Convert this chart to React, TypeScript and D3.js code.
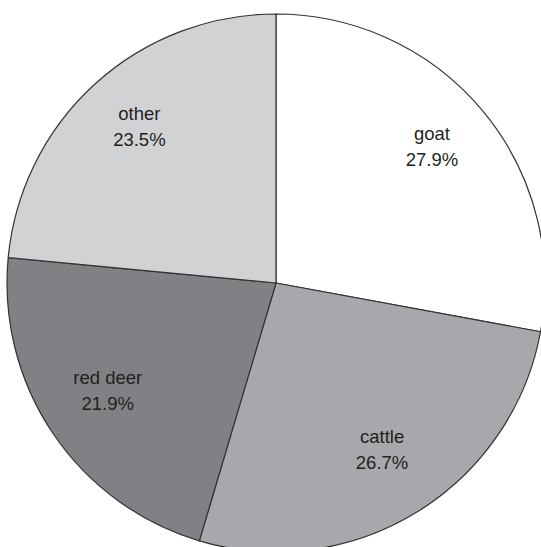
import React from "react";
import * as d3 from "d3";

const categories = ["goat", "cattle", "red deer", "other"];
const values = [27.9, 26.7, 21.9, 23.5];
const colors = ["#ffffff", "#a7a8ab", "#808184", "#d1d2d4"];

const W = 541;
const H = 547;
const cx = 276;
const cy = 283;
const R = 269;
const labelR = 203;

export default function App() {
  const pie = d3.pie<number>().sort(null).value((d) => d)(values);
  const arc = d3.arc<d3.PieArcDatum<number>>().innerRadius(0).outerRadius(R);
  const labelArc = d3.arc<d3.PieArcDatum<number>>().innerRadius(labelR).outerRadius(labelR);
  return (
    <svg
      width={W}
      height={H}
      style={{ position: "absolute", left: 0, top: 0, background: "#fff" }}
      fontFamily="'Liberation Sans', Arial, sans-serif"
    >
      <g transform={`translate(${cx},${cy})`}>
        {pie.map((p, i) => (
          <path key={i} d={arc(p) || ""} fill={colors[i]} stroke="#333" strokeWidth={1.2} strokeLinejoin="round" />
        ))}
        {pie.map((p, i) => {
          const [x, y] = labelArc.centroid(p);
          return (
            <text key={"t" + i} x={x} y={y} textAnchor="middle" fontSize={18.5} fill="#231f20">
              <tspan x={x} dy={-13}>{categories[i]}</tspan>
              <tspan x={x} dy={26}>{values[i].toFixed(1)}%</tspan>
            </text>
          );
        })}
      </g>
    </svg>
  );
}
